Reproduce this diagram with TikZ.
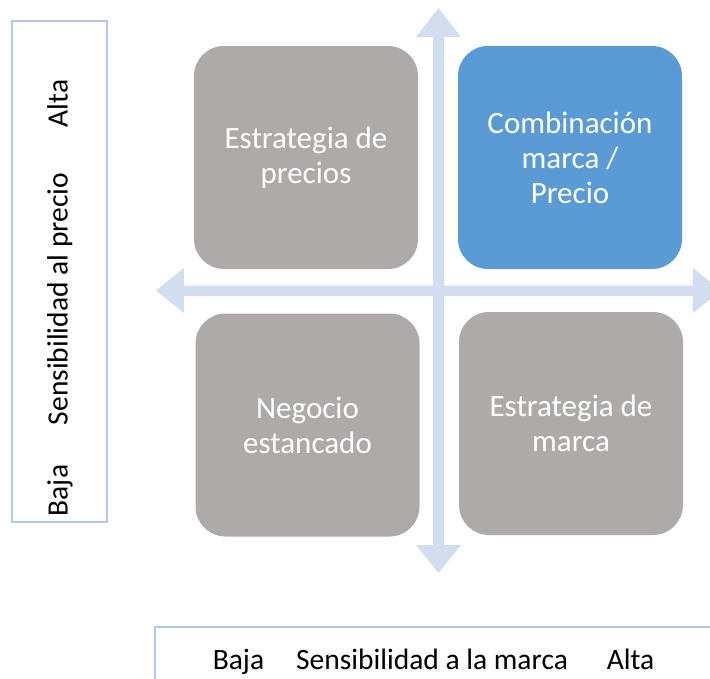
\documentclass[tikz,border=0pt]{standalone}
\usepackage{fontspec}
\setmainfont{Carlito}
\definecolor{quadgray}{HTML}{AEAAAA}
\definecolor{quadblue}{HTML}{5B9BD5}
\definecolor{axisblue}{HTML}{D2DDEF}
\definecolor{framblue}{HTML}{B4C7E7}
\tikzset{
  quad/.style={draw=none, rounded corners=30pt, minimum width=224pt, minimum height=223pt,
    text=white, align=center, font=\fontsize{31}{35}\selectfont, inner sep=0pt},
  lbl/.style={font=\fontsize{29.5}{34}\selectfont, text=black, inner sep=0pt, anchor=base},
  frame/.style={draw=framblue, line width=2pt}
}
\begin{document}
\begin{tikzpicture}[x=1pt,y=-1pt]
\useasboundingbox (0,0) rectangle (710,678);
\clip (0,0) rectangle (710,678);
% axis arrows
\fill[axisblue] (433,37) -- (416,37) -- (438.5,8) -- (461,37) -- (444,37)
  -- (444,545) -- (461,545) -- (438.5,573) -- (416,545) -- (433,545) -- cycle;
\fill[axisblue] (184,285.5) -- (184,268) -- (156,290.5) -- (184,313) -- (184,296)
  -- (693,296) -- (693,313) -- (721,290.5) -- (693,268) -- (693,285.5) -- cycle;
% quadrants
\node[quad, fill=quadgray] (tl) at (306,157.5) {Estrategia de\\precios};
\node[quad, fill=quadblue] (tr) at (570,157.5) {Combinación\\marca /\\Precio};
\node[quad, fill=quadgray] (bl) at (307.5,425) {Negocio\\estancado};
\node[quad, fill=quadgray] (br) at (571,423.5) {Estrategia de\\marca};
% left label box
\draw[frame] (12,21) rectangle (107,522);
\node[lbl, rotate=90] (ybaja) at (67.5,490.5) {Baja};
\node[lbl, rotate=90] (ysens) at (67.5,299) {Sensibilidad al precio};
\node[lbl, rotate=90] (yalta) at (67.5,103.5) {Alta};
% bottom label box
\draw[frame] (155,690) -- (155,626.5) -- (720,626.5);
\node[lbl] (xbaja) at (238.5,669) {Baja};
\node[lbl] (xsens) at (432,669) {Sensibilidad a la marca};
\node[lbl] (xalta) at (630.5,669) {Alta};
\end{tikzpicture}
\end{document}
